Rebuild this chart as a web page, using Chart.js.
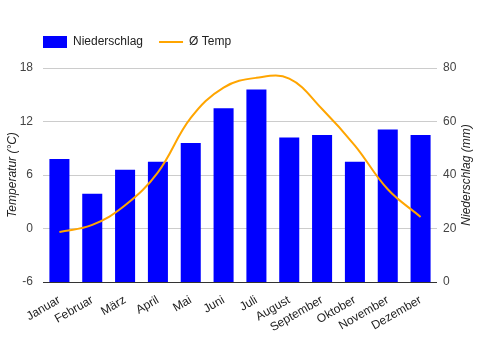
<!DOCTYPE html>
<html>
<head>
<meta charset="utf-8">
<script src="https://cdn.jsdelivr.net/npm/chart.js@4"></script>
<style>
  html, body { margin: 0; padding: 0; background: #fff; }
  #wrap { width: 481px; height: 350px; position: relative; }
</style>
</head>
<body>
<div id="wrap"><canvas id="klima"></canvas></div>
<script>
var monate = ["Januar", "Februar", "März", "April", "Mai", "Juni", "Juli", "August", "September", "Oktober", "November", "Dezember"];
var niederschlag = [46, 33, 42, 45, 52, 65, 72, 54, 55, 45, 57, 55];
var temperatur = [-0.4, 0.4, 2.6, 6.3, 12.4, 15.8, 16.9, 16.8, 13.4, 9.3, 4.4, 1.3];
var tempTicks = [-6, 0, 6, 12, 18];
var regenTicks = [0, 20, 40, 60, 80];

var FONT = "Arial, 'Liberation Sans', sans-serif";
Chart.defaults.font.family = FONT;
Chart.defaults.font.size = 12;

// legend: more room below it and shifted to line up with the plot
var legendSpace = {
  id: "legendSpace",
  beforeLayout: function (chart) {
    var lg = chart.legend;
    if (lg && !lg._patched) {
      var fit = lg.fit, draw = lg.draw;
      lg.fit = function () {
        fit.call(this);
        this.height += 10;
      };
      lg.draw = function () {
        var ctx = this.ctx;
        ctx.save();
        ctx.translate(27, 0);
        draw.call(this);
        ctx.restore();
      };
      lg._patched = true;
    }
  }
};

// right axis title reads bottom-to-top
var rightTitle = {
  id: "rightTitle",
  afterDraw: function (chart) {
    var ctx = chart.ctx, a = chart.chartArea;
    ctx.save();
    ctx.translate(467, (a.top + a.bottom) / 2);
    ctx.rotate(-Math.PI / 2);
    ctx.font = "italic 12px " + FONT;
    ctx.fillStyle = "#222";
    ctx.textAlign = "center";
    ctx.textBaseline = "middle";
    ctx.fillText("Niederschlag (mm)", 0, 0);
    ctx.restore();
  }
};

function setTicks(arr) {
  return function (scale) {
    scale.ticks = arr.map(function (v) { return { value: v }; });
  };
}

var chart = new Chart(document.getElementById("klima"), {
  data: {
    labels: monate,
    datasets: [
      {
        type: "bar",
        label: "Niederschlag",
        data: niederschlag,
        yAxisID: "yRegen",
        backgroundColor: "#0000ff",
        borderWidth: 0,
        barPercentage: 0.61,
        categoryPercentage: 1,
        pointStyle: "rect",
        order: 1
      },
      {
        type: "line",
        label: "Ø Temp",
        data: temperatur,
        yAxisID: "yTemp",
        borderColor: "#ffa500",
        backgroundColor: "#ffa500",
        borderWidth: 2,
        tension: 0.4,
        pointRadius: 0,
        pointStyle: "line",
        order: 0
      }
    ]
  },
  options: {
    responsive: true,
    maintainAspectRatio: false,
    animation: false,
    layout: { padding: { top: 20, left: 0, right: 0, bottom: 0 } },
    plugins: {
      legend: {
        position: "top",
        align: "start",
        labels: {
          usePointStyle: true,
          pointStyleWidth: 24,
          boxHeight: 12,
          padding: 16,
          color: "#222",
          sort: function (a, b) { return a.datasetIndex - b.datasetIndex; }
        }
      },
      tooltip: { enabled: false }
    },
    scales: {
      x: {
        grid: { display: false },
        border: { display: false },
        ticks: {
          color: "#222",
          autoSkip: false,
          minRotation: 30,
          maxRotation: 30,
          padding: 3
        },
        afterFit: function (s) { s.height = 68; }
      },
      yTemp: {
        position: "left",
        min: -6,
        max: 18,
        afterBuildTicks: setTicks(tempTicks),
        grid: {
          drawTicks: false,
          color: function (c) { return c.tick && c.tick.value === -6 ? "#333" : "#cccccc"; }
        },
        border: { display: false },
        ticks: { color: "#444", padding: 10 },
        title: {
          display: true,
          text: "Temperatur (°C)",
          color: "#222",
          font: { style: "italic", size: 12 },
          padding: { top: 5, bottom: 4 }
        },
        afterFit: function (s) { s.width = 43; }
      },
      yRegen: {
        position: "right",
        min: 0,
        max: 80,
        afterBuildTicks: setTicks(regenTicks),
        grid: { display: false, drawTicks: false },
        border: { display: false },
        ticks: { color: "#444", padding: 6 },
        afterFit: function (s) { s.width = 44; }
      }
    }
  },
  plugins: [legendSpace, rightTitle]
});
</script>
</body>
</html>
